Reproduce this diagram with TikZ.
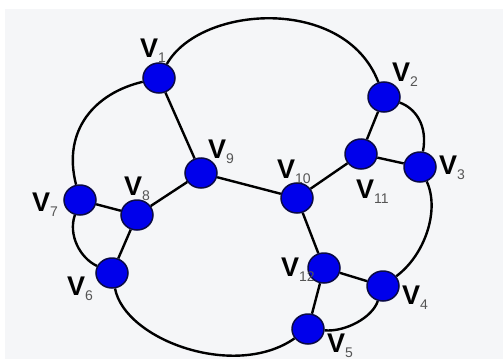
\documentclass[tikz,border=0pt]{standalone}
\usepackage{fontspec}
\setmainfont{Liberation Sans}
\usetikzlibrary{shapes.geometric}
\pgfdeclarelayer{bg}
\pgfdeclarelayer{edges}
\pgfsetlayers{bg,edges,main}
\definecolor{bgc}{HTML}{F5F6F8}
\definecolor{vfill}{RGB}{0,0,235}
\definecolor{vdraw}{RGB}{10,10,70}
\definecolor{subc}{RGB}{85,85,85}
\newcommand{\vlab}[1]{V\raisebox{-5pt}{\fontsize{14}{14}\mdseries\selectfont\color{subc}#1}}
\tikzset{
  vert/.style={ellipse, minimum width=32pt, minimum height=30pt, inner sep=0pt,
    fill=vfill, draw=vdraw, line width=1.5pt},
  edge/.style={line width=2.4pt, black},
  lbl/.style={font=\fontsize{27}{27}\bfseries\selectfont, inner sep=0pt, anchor=base west}
}
\begin{document}
\begin{tikzpicture}[x=1pt,y=-1pt]
\useasboundingbox (0,0) rectangle (503,359);
\begin{pgfonlayer}{bg}
\fill[white] (0,0) rectangle (503,359);
\fill[bgc] (5,9) rectangle (503,359);
\end{pgfonlayer}
% vertices
\node[vert] (v1) at (159,78) {};
\node[vert] (v2) at (384,97) {};
\node[vert] (v3) at (420,167) {};
\node[vert] (v4) at (383,286) {};
\node[vert] (v5) at (308,329) {};
\node[vert] (v6) at (112,273) {};
\node[vert] (v7) at (80,200) {};
\node[vert] (v8) at (137,215) {};
\node[vert] (v9) at (201,173) {};
\node[vert] (v10) at (297,198) {};
\node[vert] (v11) at (361,154) {};
\node[vert] (v12) at (324,268) {};
% edges
\begin{pgfonlayer}{edges}
\draw[edge] (v1) .. controls (200,5) and (345,-5) .. (v2);
\draw[edge] (v1) .. controls (95,93) and (62,130) .. (v7);
\draw[edge] (v1) -- (v9);
\draw[edge] (v2) -- (v11);
\draw[edge] (v2) .. controls (415,108) and (428,125) .. (v3);
\draw[edge] (v11) -- (v3);
\draw[edge] (v3) .. controls (440,210) and (425,255) .. (v4);
\draw[edge] (v4) -- (v12);
\draw[edge] (v4) .. controls (372,318) and (345,332) .. (v5);
\draw[edge] (v12) -- (v5);
\draw[edge] (v6) .. controls (125,340) and (235,380) .. (v5);
\draw[edge] (v7) .. controls (68,235) and (80,258) .. (v6);
\draw[edge] (v7) -- (v8);
\draw[edge] (v6) -- (v8);
\draw[edge] (v8) -- (v9);
\draw[edge] (v9) -- (v10);
\draw[edge] (v10) -- (v11);
\draw[edge] (v10) -- (v12);
\end{pgfonlayer}
% labels
\node[lbl] (l1) at (140,57) {\vlab{1}};
\node[lbl] (l2) at (392,81) {\vlab{2}};
\node[lbl] (l3) at (439,174) {\vlab{3}};
\node[lbl] (l4) at (402,304) {\vlab{4}};
\node[lbl] (l5) at (327,352) {\vlab{5}};
\node[lbl] (l6) at (67,295) {\vlab{6}};
\node[lbl] (l7) at (32,211) {\vlab{7}};
\node[lbl] (l8) at (124,195) {\vlab{8}};
\node[lbl] (l9) at (208,158) {\vlab{9}};
\node[lbl] (l10) at (277,178) {\vlab{10}};
\node[lbl] (l11) at (356,198) {\vlab{11}};
\node[lbl] (l12) at (281,276) {\vlab{12}};
\end{tikzpicture}
\end{document}
